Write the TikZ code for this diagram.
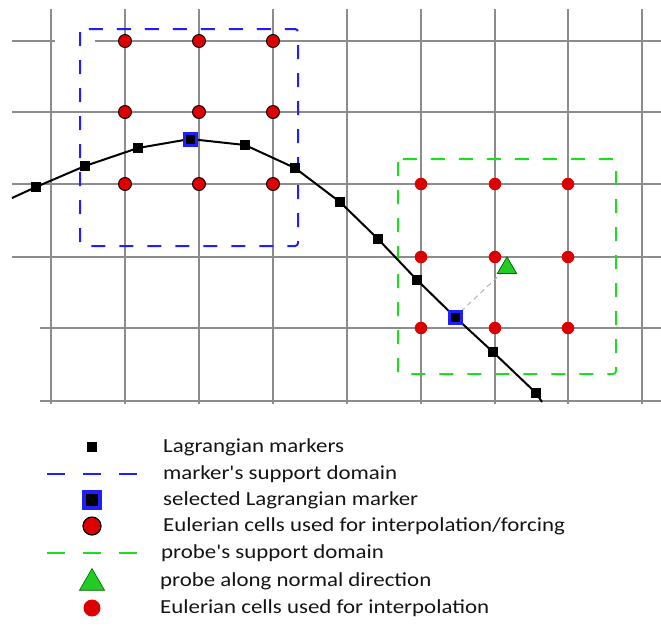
\documentclass[tikz,border=0pt]{standalone}
\usepackage{fontspec}
\setmainfont{Carlito}
\newfontfamily\legendfont[FakeStretch=1.15]{Carlito}
\usetikzlibrary{shapes.geometric}
\definecolor{gridgray}{HTML}{8C8C8C}
\definecolor{dotred}{HTML}{DD0000}
\definecolor{boxblue}{HTML}{1E1EFF}
\definecolor{boxgreen}{HTML}{1EDC1E}
\definecolor{probegreen}{HTML}{22CC22}
\definecolor{txt}{HTML}{141414}
\tikzset{
  gridline/.style={gridgray, line width=1.4pt},
  marker/.style={rectangle, fill=black, inner sep=0pt, minimum size=9.5pt},
  selmarker/.style={rectangle, fill=black, draw=boxblue, line width=3pt, inner sep=0pt, minimum size=12pt},
  celldot/.style={circle, fill=dotred, draw=black, line width=0.9pt, inner sep=0pt, minimum size=13pt},
  probedot/.style={circle, fill=dotred, inner sep=0pt, minimum size=12.5pt},
  probe/.style={regular polygon, regular polygon sides=3, fill=probegreen, draw=green!40!black, line width=0.6pt, inner sep=0pt},
  supportbox/.style={line width=2pt, dash pattern=on 14pt off 14pt, rounded corners=3pt},
  legendline/.style={line width=2pt, dash pattern=on 18pt off 18pt},
  legendtext/.style={anchor=west, inner sep=0pt, text=txt, font=\legendfont\fontsize{19.9}{22}\selectfont},
  curve/.style={line width=2pt, black},
}
\begin{document}
\begin{tikzpicture}[x=1pt, y=-1pt]
\useasboundingbox (0,0) rectangle (661,625);

% background grid
\foreach \gx in {51,125,199,273,347,421,495,568,642}
  \draw[gridline] (\gx,9) -- (\gx,404);
\draw[gridline] (12,41) -- (55,41);
\draw[gridline] (95,41) -- (661,41);
\foreach \gy in {112,184,257}
  \draw[gridline] (12,\gy) -- (661,\gy);
\foreach \gy in {328,401}
  \draw[gridline] (40,\gy) -- (661,\gy);

% support domains
\draw[supportbox, boxblue] (80,29) rectangle (298,246);
\draw[supportbox, boxgreen] (398,159) rectangle (616,374);

% Eulerian cells for interpolation/forcing
\foreach \gx/\cx in {125/a,199/b,273/c}
  \foreach \gy/\cy in {41/1,112/2,184/3}
    \node[celldot] (e\cx\cy) at (\gx,\gy) {};

% Eulerian cells around the probe
\foreach \gx/\cx in {421/a,495/b,568/c}
  \foreach \gy/\cy in {184/1,257/2,328/3}
    \node[probedot] (p\cx\cy) at (\gx,\gy) {};

% immersed boundary and its Lagrangian markers
\coordinate (c0) at (12,198);
\coordinate (c13) at (542,402);
\node[marker] (m1) at (36,187) {};
\node[marker] (m2) at (85,166) {};
\node[marker] (m3) at (138,148) {};
\node[selmarker] (m4) at (190,139) {};
\node[marker] (m5) at (245,145) {};
\node[marker] (m6) at (295,168) {};
\node[marker] (m7) at (340,202) {};
\node[marker] (m8) at (378,239) {};
\node[marker] (m9) at (417,280) {};
\node[selmarker] (m10) at (455,317) {};
\node[marker] (m11) at (493,352) {};
\node[marker] (m12) at (536,393) {};
\draw[curve] (c0) -- (m1.center) -- (m2.center) -- (m3.center) -- (m4.center) -- (m5.center) -- (m6.center)
  -- (m7.center) -- (m8.center) -- (m9.center) -- (m10.center) -- (m11.center) -- (m12.center) -- (c13);
\foreach \i in {1,2,3,5,6,7,8,9,11,12}
  \node[marker] at (m\i) {};
\node[selmarker] at (m4) {};

% probe along the normal direction
\node[probe, minimum size=22pt] (probe) at (507,268) {};
\draw[gray!60, line width=1pt, dash pattern=on 5pt off 4pt, shorten <=8pt] (m10.center) -- (probe.center);
\node[selmarker] at (m10) {};
\node[probe, minimum size=22pt] at (507,268) {};

% legend
\node[marker] (l1) at (92,447) {};
\node[legendtext] (t1) at (163,447) {Lagrangian markers};
\coordinate (l2a) at (47,474);
\coordinate (l2b) at (137,474);
\draw[legendline, boxblue] (l2a) -- (l2b);
\node[legendtext] (t2) at (163,474) {marker's support domain};
\node[selmarker, line width=4pt, minimum size=16pt] (l3) at (92,500) {};
\node[legendtext] (t3) at (163,500) {selected Lagrangian marker};
\node[celldot, minimum size=18pt, line width=1.2pt] (l4) at (92,526) {};
\node[legendtext] (t4) at (163,526) {Eulerian cells used for interpolation/forcing};
\coordinate (l5a) at (47,553);
\coordinate (l5b) at (137,553);
\draw[legendline, boxgreen] (l5a) -- (l5b);
\node[legendtext] (t5) at (161,553) {probe's support domain};
\node[probe, minimum size=29pt] (l6) at (92,583) {};
\node[legendtext] (t6) at (160,581) {probe along normal direction};
\node[probedot, minimum size=17pt] (l7) at (92,608) {};
\node[legendtext] (t7) at (160,608) {Eulerian cells used for interpolation};
\end{tikzpicture}
\end{document}
